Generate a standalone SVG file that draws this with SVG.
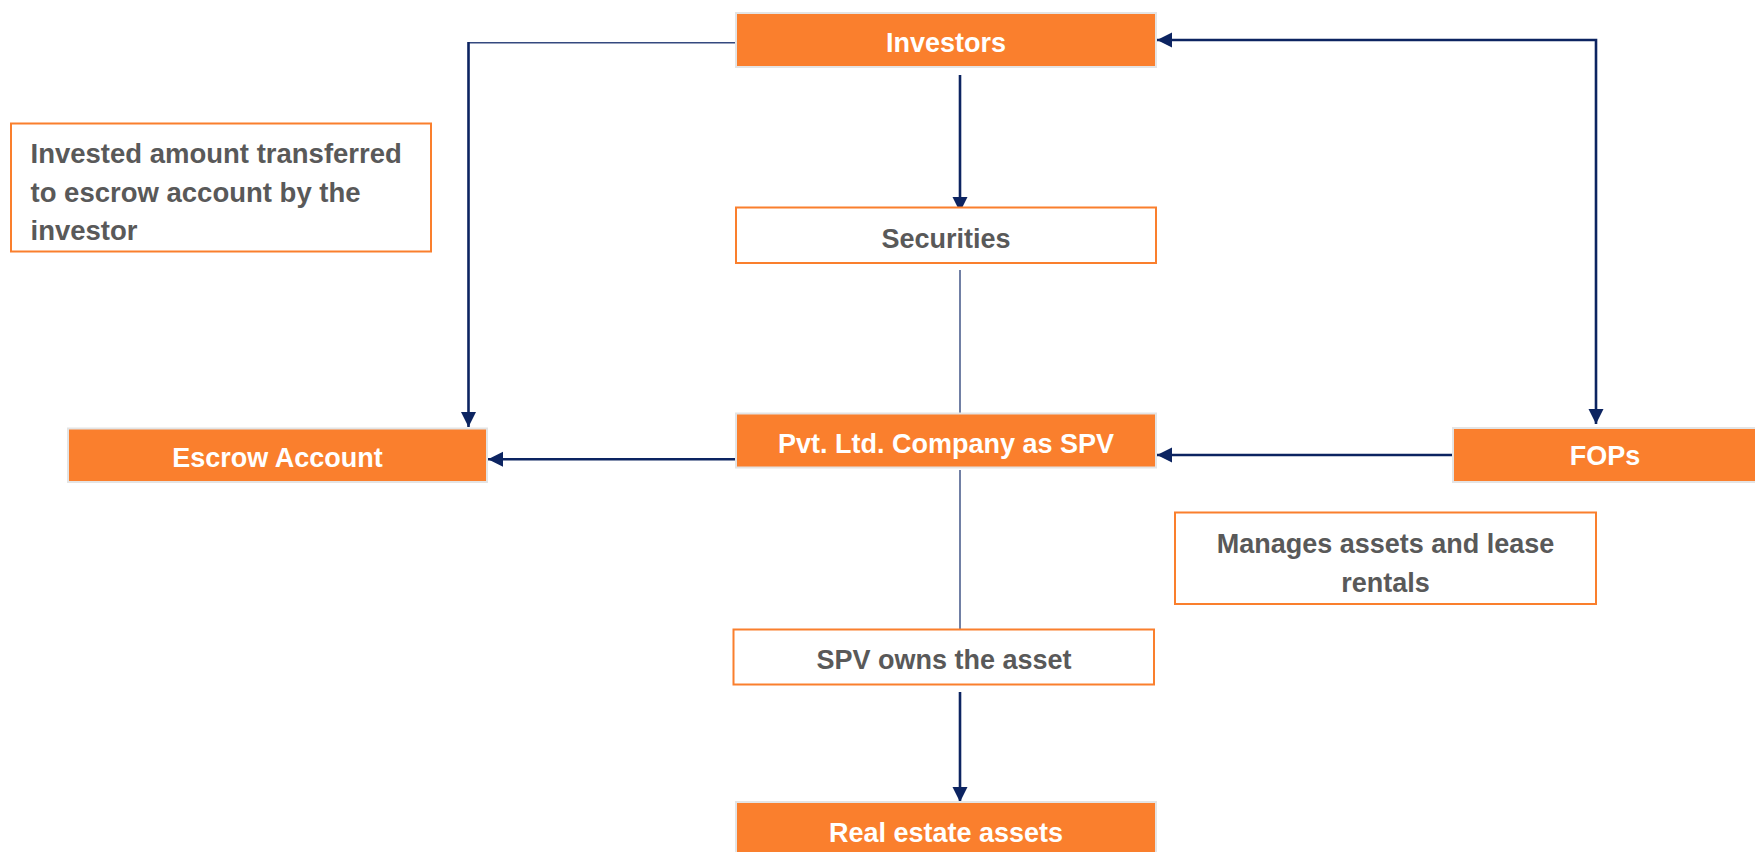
<svg xmlns="http://www.w3.org/2000/svg" width="1755" height="852" viewBox="0 0 1755 852">
<defs>
<style>
.fill{fill:#FA7F2D;stroke:#E4E4E4;stroke-width:2}
.out{fill:#FFFFFF;stroke:#FA7F2D;stroke-width:2}
.wt{font-family:"Liberation Sans",Arial,sans-serif;font-weight:bold;font-size:27px;fill:#FFFFFF;text-anchor:middle}
.gt{font-family:"Liberation Sans",Arial,sans-serif;font-weight:bold;font-size:27px;fill:#595959;text-anchor:middle}
.gl{font-family:"Liberation Sans",Arial,sans-serif;font-weight:bold;font-size:27.5px;fill:#595959}
.thick{fill:none;stroke:#0C2461;stroke-width:2.6}
.thin{fill:none;stroke:#34497F;stroke-width:1.4}
</style>
<marker id="ah" markerUnits="userSpaceOnUse" markerWidth="16" markerHeight="16" refX="15" refY="7.5" orient="auto-start-reverse">
<path d="M0,0 L15,7.5 L0,15 z" fill="#0C2461"/>
</marker>
</defs>
<rect width="1755" height="852" fill="#FFFFFF"/>
<g id="connectors">
<path class="thin" d="M735,42.7 H469"/>
<path class="thick" d="M468.5,42 V427" marker-end="url(#ah)"/>
<path class="thick" d="M960,75 V212" marker-end="url(#ah)"/>
<path class="thin" d="M960,270 V413"/>
<path class="thin" d="M960,470 V629"/>
<path class="thick" d="M960,692 V802" marker-end="url(#ah)"/>
<path class="thick" d="M735,459.3 H488" marker-end="url(#ah)"/>
<path class="thick" d="M1453,455 H1157" marker-end="url(#ah)"/>
<path class="thick" d="M1157,40 H1596 V424" marker-start="url(#ah)" marker-end="url(#ah)"/>
</g>
<g id="investors">
<rect class="fill" x="736" y="13" width="420" height="54"/>
<text class="wt" x="946" y="51.7">Investors</text>
</g>
<g id="securities">
<rect class="out" x="736" y="207.5" width="420" height="55.5"/>
<text class="gt" x="946" y="247.5">Securities</text>
</g>
<g id="spv">
<rect class="fill" x="736" y="413.5" width="420" height="54"/>
<text class="wt" x="946" y="453">Pvt. Ltd. Company as SPV</text>
</g>
<g id="escrow">
<rect class="fill" x="68" y="428.5" width="419" height="53.5"/>
<text class="wt" x="277.5" y="466.7">Escrow Account</text>
</g>
<g id="fops">
<rect class="fill" x="1453" y="428" width="305" height="54"/>
<text class="wt" x="1605" y="465">FOPs</text>
</g>
<g id="invested-note">
<rect class="out" x="11" y="123.5" width="420" height="128"/>
<text class="gl" x="30.5" y="163">Invested amount transferred</text>
<text class="gl" x="30.5" y="201.7">to escrow account by the</text>
<text class="gl" x="30.5" y="240">investor</text>
</g>
<g id="manages-note">
<rect class="out" x="1175" y="512.5" width="421" height="91.5"/>
<text class="gt" x="1385.5" y="553">Manages assets and lease</text>
<text class="gt" x="1385.5" y="591.7">rentals</text>
</g>
<g id="spv-owns">
<rect class="out" x="733.5" y="629.5" width="420.5" height="55"/>
<text class="gt" x="944" y="669">SPV owns the asset</text>
</g>
<g id="real-estate">
<rect class="fill" x="736" y="802" width="420" height="60"/>
<text class="wt" x="946" y="841.7">Real estate assets</text>
</g>
</svg>
